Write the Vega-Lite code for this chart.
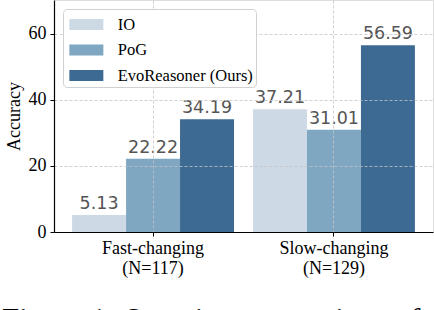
{
  "$schema": "https://vega.github.io/schema/vega-lite/v6.json",
  "width": 379,
  "height": 232,
  "autosize": {"type": "none"},
  "padding": {"left": 54, "top": 0, "right": 1, "bottom": 78},
  "background": "white",
  "title": {
    "text": "Figure 1: Question comparison of",
    "orient": "bottom",
    "anchor": "start",
    "frame": "group",
    "font": "Liberation Serif",
    "fontSize": 31,
    "fontWeight": "normal",
    "color": "black",
    "offset": 29,
    "dx": -52
  },
  "data": {
    "values": [
      {"cat": "Fast-changing (N=117)", "method": "IO", "acc": 5.13},
      {"cat": "Fast-changing (N=117)", "method": "PoG", "acc": 22.22},
      {"cat": "Fast-changing (N=117)", "method": "EvoReasoner (Ours)", "acc": 34.19},
      {"cat": "Slow-changing (N=129)", "method": "IO", "acc": 37.21},
      {"cat": "Slow-changing (N=129)", "method": "PoG", "acc": 31.01},
      {"cat": "Slow-changing (N=129)", "method": "EvoReasoner (Ours)", "acc": 56.59}
    ]
  },
  "encoding": {
    "x": {
      "field": "cat",
      "type": "nominal",
      "sort": null,
      "scale": {"paddingInner": 0.105, "paddingOuter": 0.1},
      "axis": {
        "title": null,
        "labelAngle": 0,
        "labelExpr": "split(datum.label, ' ')",
        "labelFont": "Liberation Serif",
        "labelFontSize": 18,
        "labelColor": "black",
        "labelLineHeight": 20,
        "labelPadding": 3,
        "tickSize": 4,
        "tickColor": "black",
        "domainColor": "black",
        "domainWidth": 1.2,
        "bandPosition": 0.5,
        "grid": true,
        "gridColor": "#c4c4c4",
        "gridDash": [3, 2],
        "gridWidth": 0.8,
        "zindex": 1
      }
    },
    "xOffset": {
      "field": "method",
      "type": "nominal",
      "sort": ["IO", "PoG", "EvoReasoner (Ours)"],
      "scale": {"paddingInner": 0, "paddingOuter": 0}
    },
    "y": {
      "field": "acc",
      "type": "quantitative",
      "scale": {"domain": [0, 70.3], "nice": false},
      "axis": {
        "title": "Accuracy",
        "titleFont": "Liberation Serif",
        "titleFontSize": 18,
        "titleFontWeight": "normal",
        "titleColor": "black",
        "titlePadding": 5,
        "values": [0, 20, 40, 60],
        "labelFont": "Liberation Serif",
        "labelFontSize": 18,
        "labelColor": "black",
        "labelPadding": 4,
        "tickSize": 4,
        "tickColor": "black",
        "domainColor": "black",
        "domainWidth": 1.2,
        "grid": true,
        "gridColor": "#c4c4c4",
        "gridDash": [3, 2],
        "gridWidth": 0.8,
        "zindex": 1
      }
    }
  },
  "layer": [
    {
      "mark": {"type": "bar"},
      "encoding": {
        "color": {
          "field": "method",
          "type": "nominal",
          "sort": ["IO", "PoG", "EvoReasoner (Ours)"],
          "scale": {
            "domain": ["IO", "PoG", "EvoReasoner (Ours)"],
            "range": ["#cdd9e5", "#7fa7c1", "#3c6a93"]
          },
          "legend": {
            "title": null,
            "orient": "none",
            "legendX": 9,
            "legendY": 9,
            "symbolType": "M-1.36,-0.44H1.36V0.44H-1.36Z",
            "symbolSize": 625,
            "symbolStrokeWidth": 0,
            "symbolOpacity": 1,
            "symbolOffset": 7.85,
            "labelFont": "Liberation Serif",
            "labelFontSize": 16.5,
            "labelColor": "black",
            "labelOffset": 18.85,
            "rowPadding": 4.5,
            "padding": 3,
            "fillColor": "white",
            "strokeColor": "#d0d0d0",
            "cornerRadius": 4,
            "zindex": 2
          }
        }
      }
    },
    {
      "mark": {
        "type": "text",
        "baseline": "alphabetic",
        "dy": -6,
        "font": "DejaVu Sans",
        "fontSize": 17.5,
        "color": "#555555"
      },
      "encoding": {
        "text": {"field": "acc", "type": "quantitative", "format": ".2f"}
      }
    }
  ]
}
